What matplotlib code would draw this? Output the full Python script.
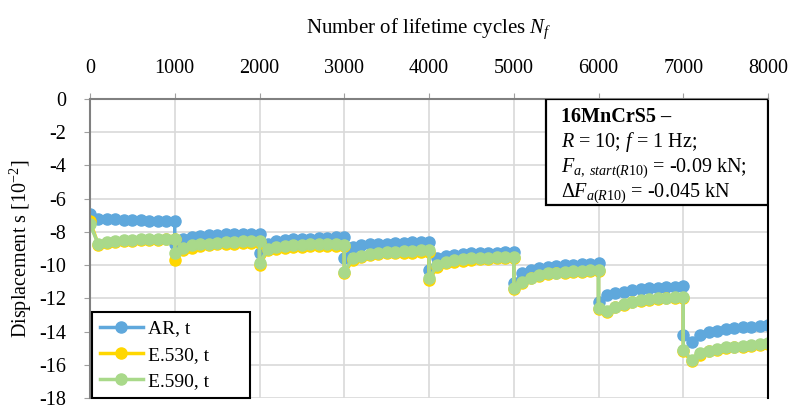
"""Displacement vs. lifetime cycles for 16MnCrS5 (AR, E.530, E.590)."""
import matplotlib
matplotlib.use("Agg")
import matplotlib.pyplot as plt
from matplotlib.patches import Rectangle
import numpy as np

plt.rcParams["font.family"] = ["Liberation Serif", "DejaVu Serif"]
plt.rcParams["mathtext.fontset"] = "custom"
plt.rcParams["mathtext.rm"] = "Liberation Serif"
plt.rcParams["mathtext.it"] = "Liberation Serif:italic"
plt.rcParams["mathtext.bf"] = "Liberation Serif:bold"
plt.rcParams["axes.unicode_minus"] = False

# load step starts and measurement offsets inside each step (cycles)
BLOCK_STARTS = [0, 1000, 2000, 3000, 4000, 5000, 6000, 7000]
OFFSETS = [0, 100, 200, 300, 400, 500, 600, 700, 800, 900, 1000]

# displacement s [10^-2], one row per load step
AR_T = [
    [-6.9, -7.25, -7.25, -7.25, -7.3, -7.3, -7.3, -7.35, -7.35, -7.35, -7.35],
    [-8.7, -8.4, -8.3, -8.25, -8.2, -8.2, -8.15, -8.15, -8.1, -8.1, -8.1],
    [-9.3, -8.7, -8.55, -8.5, -8.45, -8.4, -8.4, -8.35, -8.35, -8.3, -8.3],
    [-9.6, -8.9, -8.8, -8.75, -8.7, -8.7, -8.65, -8.65, -8.6, -8.6, -8.6],
    [-10.3, -9.6, -9.45, -9.4, -9.35, -9.3, -9.3, -9.25, -9.25, -9.2, -9.2],
    [-11.1, -10.5, -10.3, -10.2, -10.1, -10.05, -10.0, -10.0, -9.95, -9.95, -9.9],
    [-12.2, -11.8, -11.7, -11.6, -11.5, -11.45, -11.4, -11.35, -11.3, -11.3, -11.25],
    [-14.2, -14.6, -14.2, -14.05, -13.95, -13.85, -13.8, -13.75, -13.7, -13.65, -13.6],
]
E530_T = [
    [-7.35, -8.8, -8.65, -8.6, -8.55, -8.55, -8.5, -8.5, -8.5, -8.45, -8.45],
    [-9.7, -9.1, -8.95, -8.85, -8.8, -8.75, -8.7, -8.7, -8.65, -8.65, -8.65],
    [-10.0, -9.1, -9.0, -8.95, -8.9, -8.9, -8.85, -8.85, -8.85, -8.85, -8.85],
    [-10.5, -9.7, -9.5, -9.4, -9.35, -9.3, -9.3, -9.25, -9.25, -9.2, -9.2],
    [-10.9, -10.1, -9.9, -9.8, -9.75, -9.7, -9.65, -9.65, -9.6, -9.6, -9.6],
    [-11.45, -11.05, -10.8, -10.65, -10.55, -10.5, -10.45, -10.4, -10.4, -10.35, -10.35],
    [-12.65, -12.8, -12.55, -12.4, -12.25, -12.15, -12.1, -12.05, -12.0, -11.95, -11.95],
    [-15.2, -15.8, -15.4, -15.2, -15.1, -15.0, -14.95, -14.9, -14.85, -14.8, -14.75],
]
E590_T = [
    [-7.55, -8.75, -8.6, -8.55, -8.5, -8.5, -8.45, -8.45, -8.45, -8.4, -8.4],
    [-9.3, -8.95, -8.8, -8.75, -8.7, -8.65, -8.6, -8.6, -8.55, -8.55, -8.55],
    [-9.9, -9.0, -8.9, -8.85, -8.8, -8.8, -8.75, -8.75, -8.75, -8.75, -8.8],
    [-10.4, -9.6, -9.45, -9.35, -9.25, -9.2, -9.2, -9.15, -9.15, -9.1, -9.1],
    [-10.8, -10.0, -9.8, -9.7, -9.65, -9.6, -9.55, -9.55, -9.5, -9.5, -9.5],
    [-11.4, -11.0, -10.75, -10.6, -10.5, -10.45, -10.4, -10.35, -10.35, -10.3, -10.3],
    [-12.6, -12.75, -12.5, -12.35, -12.2, -12.1, -12.05, -12.0, -11.95, -11.9, -11.9],
    [-15.1, -15.7, -15.3, -15.15, -15.05, -14.95, -14.9, -14.85, -14.8, -14.75, -14.7],
]

SERIES = [
    ("AR, t", AR_T, "#5fa8dc"),
    ("E.530, t", E530_T, "#ffd700"),
    ("E.590, t", E590_T, "#a9d98a"),
]


def flatten(blocks):
    xs, ys = [], []
    for start, vals in zip(BLOCK_STARTS, blocks):
        xs.extend(start + off for off in OFFSETS)
        ys.extend(vals)
    return np.array(xs), np.array(ys)


fig = plt.figure(figsize=(7.89, 4.05), dpi=100)
ax = fig.add_axes([90 / 789, 7 / 405, 678 / 789, 299 / 405])

for label, blocks, color in SERIES:
    x, y = flatten(blocks)
    ax.plot(x, y, "-o", color=color, lw=2.5, ms=8, mec=color, label=label)

ax.set_xlim(0, 8000)
ax.set_ylim(-18, 0)
ax.set_xticks(range(0, 8001, 1000))
ax.set_yticks(range(-18, 1, 2))
ax.grid(True, color="#d9d9d9", lw=1.2)
ax.set_axisbelow(True)

ax.xaxis.tick_top()
ax.xaxis.set_label_position("top")
ax.tick_params(axis="x", length=4, pad=11, labelsize=14.5, color="#a0a0a0")
ax.tick_params(axis="y", length=4, pad=13, labelsize=14.5, color="#a0a0a0")
ax.set_xlabel("Number of lifetime cycles $N_f$", fontsize=15, labelpad=19)
ax.set_ylabel("Displacement s [10$^{-2}$]", fontsize=14.5, labelpad=4)

for side in ("top", "left"):
    ax.spines[side].set_color("#808080")
    ax.spines[side].set_linewidth(1.5)
ax.spines["bottom"].set_visible(False)
ax.spines["right"].set_color("black")
ax.spines["right"].set_linewidth(1.5)

# info box in the upper right corner
x0, y0 = (546 - 90) / 678, (398 - 205) / 299
ax.add_patch(Rectangle((x0, y0), 1 - x0, 1 - y0, transform=ax.transAxes,
                       fill=True, facecolor="white", edgecolor="black",
                       lw=1.6, zorder=5))
tx = (561 - 90) / 678
lines = [
    (122, "16MnCrS5 –", "bold"),
    (147, r"$R$ = 10; $f$ = 1 Hz;", "normal"),
    (172, r"$F_{a,\ start(R10)}$ = -0.09 kN;", "normal"),
    (197, r"$\Delta F_{a(R10)}$ = -0.045 kN", "normal"),
]
for py, txt, weight in lines:
    ax.text(tx, (398 - py) / 299, txt, transform=ax.transAxes, fontsize=14.5,
            fontweight=weight, va="baseline", ha="left", zorder=6)

# legend box spans roughly x 92..250 px in the reference
leg = ax.legend(loc="lower left",
                bbox_to_anchor=(0.003, 0.0, (250 - 92) / 678, 0.3),
                mode="expand", fontsize=14,
                fancybox=False, edgecolor="black", framealpha=1,
                borderaxespad=0, handlelength=2.2, handletextpad=0.3,
                labelspacing=0.45, borderpad=0.4)
leg.get_frame().set_linewidth(1.5)
leg.set_zorder(7)

fig.savefig("out.png", dpi=100)
